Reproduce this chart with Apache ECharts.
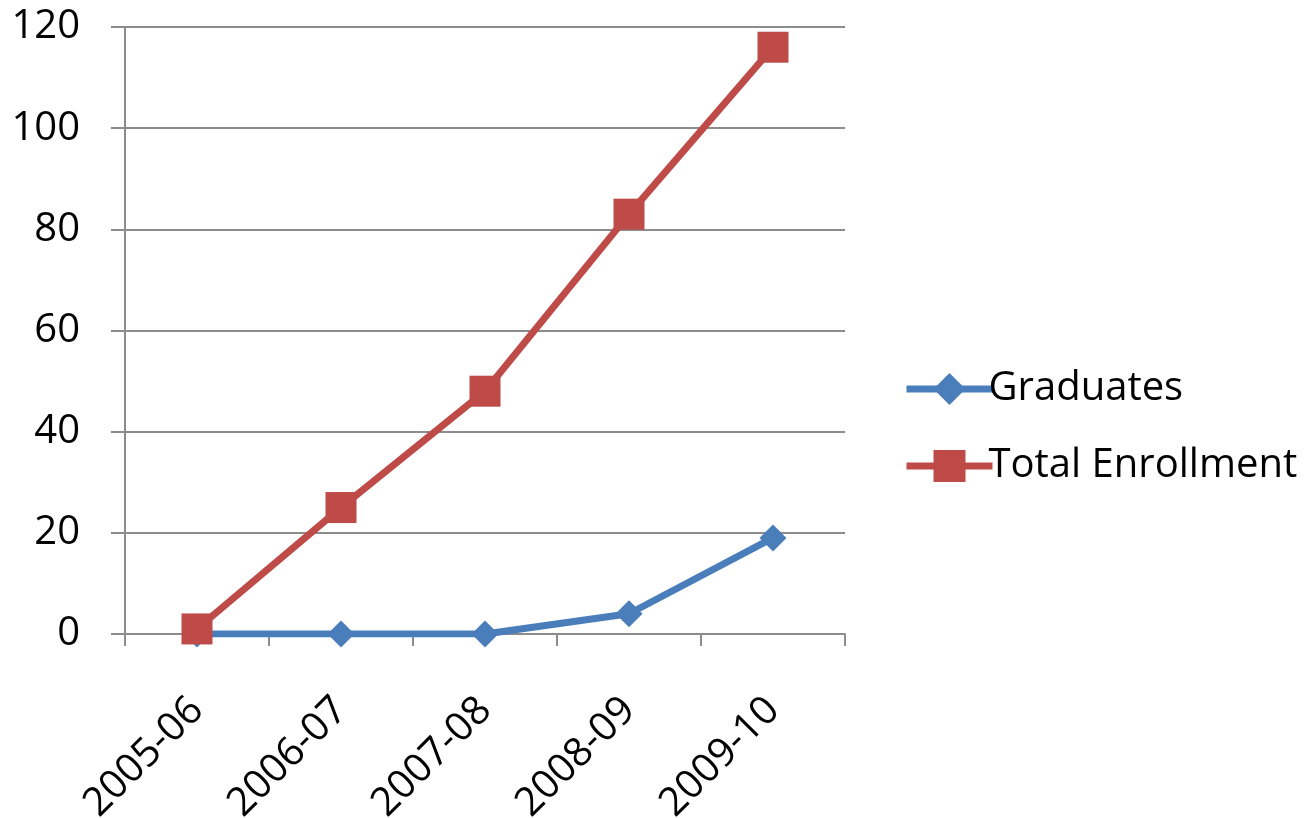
<!DOCTYPE html>
<html>
<head>
<meta charset="utf-8">
<script src="https://cdn.jsdelivr.net/npm/echarts@6/dist/echarts.min.js"></script>
<style>
  html, body { margin: 0; padding: 0; background: #ffffff; }
  #chart { width: 1306px; height: 818px; }
</style>
</head>
<body>
<div id="chart"></div>
<script>
// School years on the category axis
const years = ['2005-06', '2006-07', '2007-08', '2008-09', '2009-10'];
// Students graduating each year
const graduates = [0, 0, 0, 4, 19];
// Total students enrolled each year
const totalEnrollment = [1, 25, 48, 83, 116];

const FONT = '"Open Sans", Lato, "Liberation Sans", sans-serif';
const GRID_GRAY = '#8c8c8c';
const BLUE = '#4a7ebb';
const RED = '#be4b48';

const chart = echarts.init(document.getElementById('chart'));
chart.setOption({
  backgroundColor: '#ffffff',
  animation: false,
  textStyle: { fontFamily: FONT },
  grid: { left: 125, right: 461, top: 27, bottom: 184, containLabel: false, outerBoundsMode: 'none' },
  legend: {
    orient: 'vertical',
    left: 898,
    top: 364,
    itemWidth: 86,
    itemHeight: 40,
    itemGap: 37,
    lineStyle: { width: 7 },
    textStyle: { fontSize: 40, color: '#000', fontFamily: FONT, padding: [0, 0, 0, -9] },
    data: ['Graduates', 'Total Enrollment']
  },
  xAxis: {
    type: 'category',
    data: years,
    boundaryGap: true,
    axisLine: { show: true, lineStyle: { color: GRID_GRAY, width: 2 } },
    axisTick: { show: true, length: 12, lineStyle: { color: GRID_GRAY, width: 2 }, alignWithLabel: false },
    axisLabel: { rotate: 45, fontSize: 40, color: '#000', margin: 70, fontFamily: FONT }
  },
  yAxis: {
    type: 'value',
    min: 0,
    max: 120,
    interval: 20,
    axisLine: { show: true, lineStyle: { color: GRID_GRAY, width: 2 } },
    axisTick: { show: true, inside: false, length: 14, lineStyle: { color: GRID_GRAY, width: 2 } },
    splitLine: { show: true, lineStyle: { color: GRID_GRAY, width: 2 } },
    axisLabel: { fontSize: 40, color: '#000', margin: 45, fontFamily: FONT }
  },
  series: [
    {
      name: 'Graduates',
      type: 'line',
      data: graduates,
      symbol: 'diamond',
      symbolSize: 27,
      lineStyle: { color: BLUE, width: 7 },
      itemStyle: { color: BLUE },
      z: 2
    },
    {
      name: 'Total Enrollment',
      type: 'line',
      data: totalEnrollment,
      symbol: 'rect',
      symbolSize: 31,
      lineStyle: { color: RED, width: 7 },
      itemStyle: { color: RED },
      z: 3
    }
  ]
});
</script>
</body>
</html>
